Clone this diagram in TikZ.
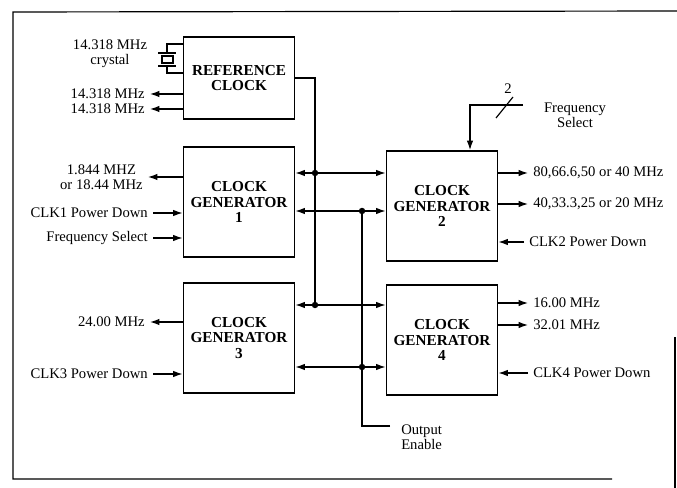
\documentclass[tikz,border=0pt]{standalone}
\usepackage{fontspec}
\setmainfont{Liberation Serif}
\usetikzlibrary{arrows.meta}

\begin{document}
\begin{tikzpicture}[x=0.03cm, y=-0.03cm, line width=1pt,
  blk/.style={draw, line width=1.6pt, minimum width=3.33cm, minimum height=3.3cm,
    align=center, font=\fontsize{13}{13}\selectfont\bfseries},
  lbl/.style={font=\fontsize{12.5}{13}\selectfont, inner sep=4pt},
  arr/.style={-{Latex[length=8pt,width=5.5pt]}},
  arrs/.style={{Latex[length=8pt,width=5.5pt]}-{Latex[length=8pt,width=5.5pt]}},
  dot/.style={fill, circle, inner sep=0pt, minimum size=5.5pt}]

\useasboundingbox (0,0) rectangle (677,488);

% Frame
\draw (677,11) -- (13,12) -- (13,479) -- (612,479);
\draw (675,337) -- (675,488);

% Blocks
\node[blk, minimum height=2.46cm] (ref) at (239,78) {REFERENCE\\CLOCK};
\node[blk] (cg1) at (239,202) {CLOCK\\GENERATOR\\1};
\node[blk] (cg2) at (442,206) {CLOCK\\GENERATOR\\2};
\node[blk] (cg3) at (239,338) {CLOCK\\GENERATOR\\3};
\node[blk] (cg4) at (442,340) {CLOCK\\GENERATOR\\4};

% Crystal
\node[lbl, align=center] (xtal) at (110,54) {14.318 MHz\\crystal};
\draw (ref.west |- 0,44) -- (167,44) -- (167,53);
\draw (158,53) -- (176,53);
\draw (162,56) rectangle (173,63);
\draw (158,66) -- (176,66);
\draw (167,66) -- (167,73) -- (ref.west |- 0,73);

% Reference clock outputs
\node[lbl, anchor=east] (o1) at (150,94) {14.318 MHz};
\node[lbl, anchor=east] (o2) at (150,109) {14.318 MHz};
\draw[arr] (ref.west |- o1) -- (o1);
\draw[arr] (ref.west |- o2) -- (o2);

% Clock generator 1
\node[lbl, anchor=east, align=center] (f1) at (148,177) {1.844 MHZ\\or 18.44 MHz};
\node[lbl, anchor=east] (pd1) at (153,213) {CLK1 Power Down};
\node[lbl, anchor=east] (fs1) at (153,238) {Frequency Select};
\draw[arr] (cg1.west |- f1.east) -- (f1.east);
\draw[arr] (pd1) -- (cg1.west |- pd1);
\draw[arr] (fs1) -- (cg1.west |- fs1);

% Clock generator 3
\node[lbl, anchor=east] (f3) at (150,322) {24.00 MHz};
\node[lbl, anchor=east] (pd3) at (153,374) {CLK3 Power Down};
\draw[arr] (cg3.west |- f3) -- (f3);
\draw[arr] (pd3) -- (cg3.west |- pd3);

% Clock generator 2
\node[lbl, anchor=west] (f2a) at (528,173) {80,66.6,50 or 40 MHz};
\node[lbl, anchor=west] (f2b) at (528,204) {40,33.3,25 or 20 MHz};
\node[lbl, anchor=west] (pd2) at (524,242) {CLK2 Power Down};
\draw[arr] (cg2.east |- f2a) -- (f2a);
\draw[arr] (cg2.east |- f2b) -- (f2b);
\draw[arr] (pd2) -- (cg2.east |- pd2);

% Frequency select (2 lines)
\node[lbl, align=center] (fs2) at (575,115) {Frequency\\Select};
\coordinate (fsin) at (523,105);
\draw[arr] (fsin) -| ([xshift=0.84cm]cg2.north);
\draw (496,118) -- (513,97);
\node[lbl, inner sep=1pt] (n2) at (508,89) {2};

% Clock generator 4
\node[lbl, anchor=west] (f4a) at (528,303) {16.00 MHz};
\node[lbl, anchor=west] (f4b) at (528,325) {32.01 MHz};
\node[lbl, anchor=west] (pd4) at (528,373) {CLK4 Power Down};
\draw[arr] (cg4.east |- f4a) -- (f4a);
\draw[arr] (cg4.east |- f4b) -- (f4b);
\draw[arr] (pd4) -- (cg4.east |- pd4);

% Buses
\coordinate (j1) at (315,173);
\coordinate (j2) at (315,305);
\coordinate (j3) at (362,211);
\coordinate (j4) at (362,367);
\coordinate (oe) at (390,426);
\draw[arrs] (cg1.east |- j1) -- (cg2.west |- j1);
\draw[arrs] (cg1.east |- j3) -- (cg2.west |- j3);
\draw[arrs] (cg3.east |- j2) -- (cg4.west |- j2);
\draw[arrs] (cg3.east |- j4) -- (cg4.west |- j4);
\draw (ref.east) -| (j2);
\draw (oe) -| (j3);
\node[dot] at (j1) {};
\node[dot] at (j2) {};
\node[dot] at (j3) {};
\node[dot] at (j4) {};
\node[lbl, anchor=west, align=left] (oen) at (396,437) {Output\\Enable};

\end{tikzpicture}
\end{document}
